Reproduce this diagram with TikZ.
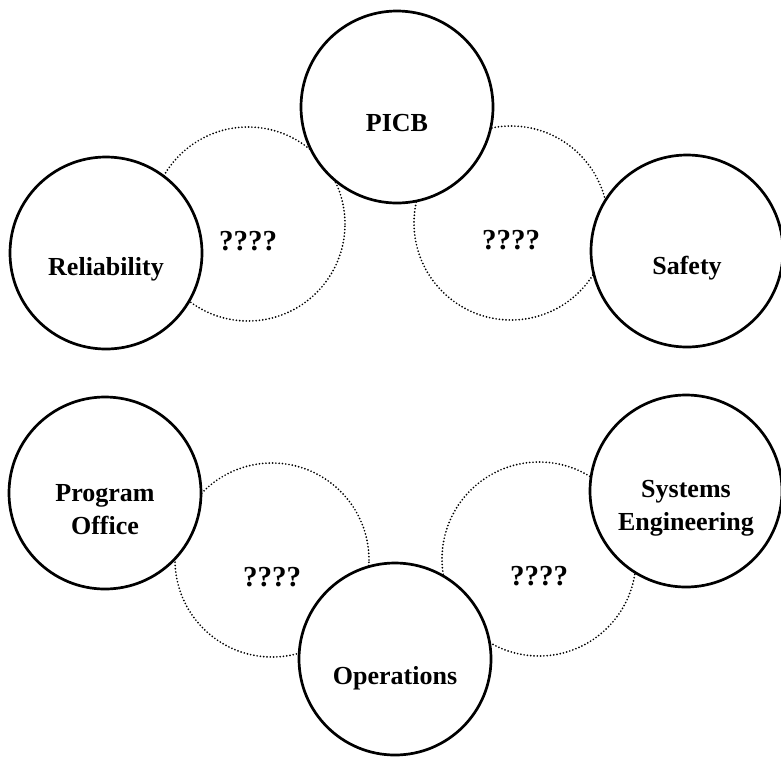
\documentclass[tikz,border=0pt]{standalone}
\usepackage{fontspec}
\setmainfont{Liberation Serif}

\begin{document}
\begin{tikzpicture}[x=1pt, y=-1pt,
  party/.style={circle, draw, line width=2.7pt, fill=white, minimum size=192pt, inner sep=0pt},
  overlap/.style={circle, draw, line width=1.9pt, line cap=round, dash pattern=on 0pt off 3.3pt, minimum size=194pt, inner sep=0pt},
  tag/.style={font=\bfseries\fontsize{26}{33}\selectfont, align=center},
  qmark/.style={font=\bfseries\fontsize{29}{33}\selectfont}
]
  \useasboundingbox[fill=white] (0,0) rectangle (781,756);

  % dotted overlaps first, the solid circles hide them
  \node[overlap] (gapRP) at (248,224) {};
  \node[overlap] (gapPS) at (511,223) {};
  \node[overlap] (gapPO) at (272,560) {};
  \node[overlap] (gapOS) at (539,559) {};

  \node[party] (picb)   at (397,107) {};
  \node[party] (rel)    at (106,253) {};
  \node[party] (safety) at (687,251) {};
  \node[party] (prog)   at (105,493) {};
  \node[party] (syseng) at (686,491) {};
  \node[party] (ops)    at (395,659) {};

  % labels sit a little below the centres
  \node[tag] (picbT)   at ([yshift=-16pt]picb.center)   {PICB};
  \node[tag] (relT)    at ([yshift=-16pt]rel.center)    {Reliability};
  \node[tag] (safetyT) at ([yshift=-17pt]safety.center) {Safety};
  \node[tag] (progT)   at ([yshift=-17pt]prog.center)   {Program\\Office};
  \node[tag] (sysengT) at ([yshift=-17pt]syseng.center) {Systems\\Engineering};
  \node[tag] (opsT)    at ([yshift=-19pt]ops.center)    {Operations};

  \foreach \g in {gapRP, gapPS, gapPO, gapOS}
    \node[qmark] (\g T) at ([yshift=-17pt]\g.center) {????};
\end{tikzpicture}
\end{document}
